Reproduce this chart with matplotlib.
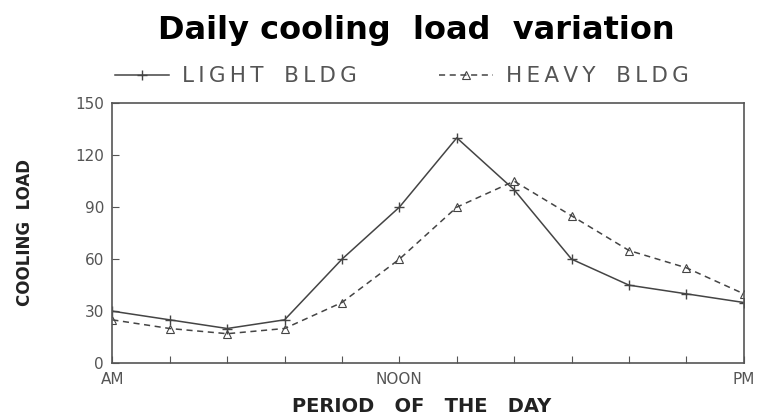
#!/usr/bin/python3

import matplotlib
matplotlib.use('Agg')
import matplotlib.pyplot as plt
import numpy as np

########################################################################################
# data
periods = list(range(12))
xtick_labels = {0: 'AM', 5: 'NOON', 11: 'PM'}
light_bldg = [30, 25, 20, 25, 60, 90, 130, 100, 60, 45, 40, 35]
heavy_bldg = [25, 20, 17, 20, 35, 60, 90, 105, 85, 65, 55, 40]
yticks = [0, 30, 60, 90, 120, 150]

########################################################################################
def Spaced(txt):
    # widen the lettering a bit with thin spaces, like the old plotter font
    return '   '.join('\u2009'.join(w) for w in txt.split())

fig = plt.figure(figsize=(7.59, 4.16), dpi=100)
ax = fig.add_axes([0.148, 0.127, 0.832, 0.625])

lcol = '#444444'
ax.plot(periods, light_bldg, color=lcol, linewidth=1.1, marker='+', markersize=7,
        label=Spaced('LIGHT BLDG'))
ax.plot(periods, heavy_bldg, color=lcol, linewidth=1.1, linestyle=(0, (4, 3)),
        marker='^', markersize=6, markerfacecolor='none', markeredgewidth=0.8,
        label=Spaced('HEAVY BLDG'))

ax.set_xlim(0, 11)
ax.set_ylim(0, 150)
ax.set_xticks(periods)
ax.set_xticklabels([xtick_labels.get(p, '') for p in periods])
ax.set_yticks(yticks)

for sp in ax.spines.values():
    sp.set_color('#555555')
    sp.set_linewidth(1.2)

ax.tick_params(axis='both', direction='in', length=5, color='#555555',
               labelcolor='#555555', labelsize=11)
ax.tick_params(axis='x', pad=6)
ax.tick_params(axis='y', pad=6)

fig.text(0.033, 0.442, 'COOLING  LOAD', rotation=90, ha='center', va='center',
         fontweight='bold', fontsize=12, color='#222222')
fig.text(0.555, 0.022, 'PERIOD   OF   THE   DAY', ha='center', va='center',
         fontweight='bold', fontsize=14, color='#222222')

fig.text(0.549, 0.906, 'Daily cooling  load  variation', ha='center', va='baseline',
         fontsize=23, fontweight='bold', color='black')

ax.legend(loc='center left', bbox_to_anchor=(0.005, 1.104), ncol=2, frameon=False,
          fontsize=15.5, handlelength=2.5, columnspacing=3.8, handletextpad=0.6,
          borderpad=0, borderaxespad=0, labelcolor='#555555')

plt.savefig('out.png', dpi=100)
